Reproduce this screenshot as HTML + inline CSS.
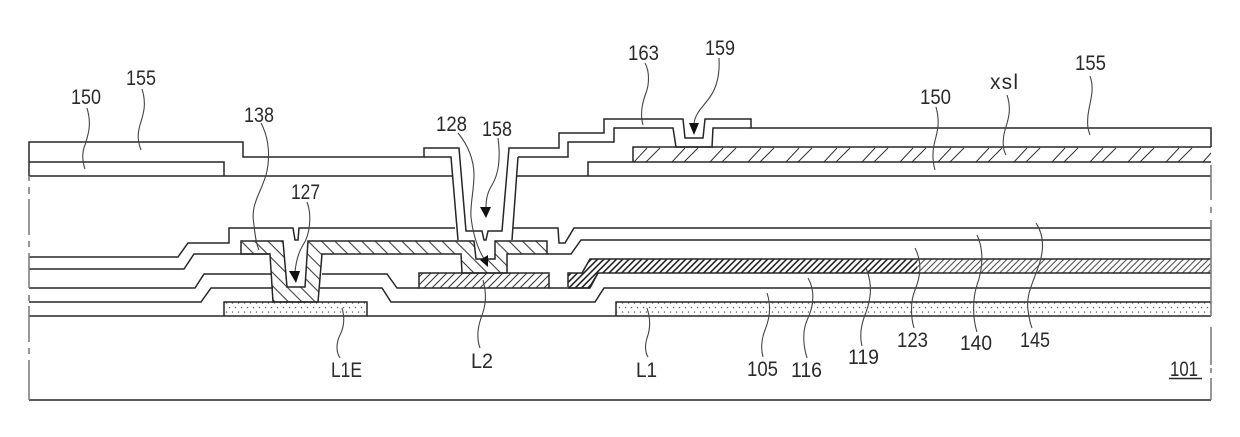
<!DOCTYPE html>
<html><head><meta charset="utf-8"><style>
html,body{margin:0;padding:0;background:#fff}
svg{display:block}
text{font-family:"Liberation Sans",sans-serif;font-size:21px;fill:#2a2a2a}
.l{fill:none;stroke:#262626;stroke-width:1.5}
.w{fill:none;stroke:#444;stroke-width:1.1}
</style></head><body>
<svg width="1240" height="437" viewBox="0 0 1240 437" xmlns="http://www.w3.org/2000/svg">
<defs>
<pattern id="h138" patternUnits="userSpaceOnUse" width="13.4" height="13.4"><path d="M-1,-1L14.4,14.4M-1,12.4L1,14.4M12.4,-1L14.4,1" stroke="#333" stroke-width="1"/></pattern>
<pattern id="hL2" patternUnits="userSpaceOnUse" width="8" height="8"><path d="M-1,9L9,-1M-1,1L1,-1M7,9L9,7" stroke="#333" stroke-width="1"/></pattern>
<pattern id="h3a" patternUnits="userSpaceOnUse" width="6.3" height="6.3"><path d="M-1,7.3L7.3,-1M-1,1L1,-1M5.3,7.3L7.3,5.3" stroke="#1a1a1a" stroke-width="1.5"/></pattern>
<pattern id="h3b" patternUnits="userSpaceOnUse" width="6.3" height="6.3"><path d="M-1,7.3L7.3,-1M-1,1L1,-1M5.3,7.3L7.3,5.3" stroke="#444" stroke-width="1"/></pattern>
<pattern id="dots" patternUnits="userSpaceOnUse" width="6" height="9" y="303"><circle cx="1.5" cy="4.5" r=".75" fill="#666"/><circle cx="4.5" cy="9" r=".75" fill="#666"/><circle cx="4.5" cy="0" r=".75" fill="#666"/></pattern>
</defs>

<!-- hatched regions -->
<g stroke="#333" stroke-width="1" fill="none">
<path d="M634,162L647,148M646,162L660,148M672,162L685,148M684,162L698,148M710,162L723,148M722,162L736,148M748,162L761,148M760,162L774,148M786,162L799,148M798,162L812,148M824,162L837,148M836,162L850,148M862,162L875,148M874,162L888,148M900,162L913,148M912,162L926,148M938,162L951,148M950,162L964,148M976,162L989,148M988,162L1002,148M1014,162L1027,148M1026,162L1040,148M1052,162L1065,148M1064,162L1078,148M1090,162L1103,148M1102,162L1116,148M1128,162L1141,148M1140,162L1154,148M1166,162L1179,148M1178,162L1192,148M1203,162L1211,153"/>
</g>
<path d="M241,241H283L287,287H305L308,241H474L476,259H495V241H547V254H507V273H462L461,254H322L318,302H273L270,254H241Z" fill="url(#h138)"/>
<path d="M419,273H549V288H419Z" fill="url(#hL2)"/>
<path d="M568,273H582L590,259H917V273H598L590,288H568Z" fill="url(#h3a)"/>
<path d="M917,259H1211V273H917Z" fill="url(#h3b)"/>
<path d="M224,302H367V316H224Z" fill="url(#dots)"/>
<path d="M616,302H1211V316H616Z" fill="url(#dots)"/>

<!-- top layers -->
<g class="l">
<path d="M29,176V142H243V157H424V148H459L466,231H482L484,240H486L488,231H502L509,148H559V133H604V119H683L685,138H703L705,119H751V128H1211V147"/>
<path d="M29,162H224V176"/>
<path d="M29,176H453"/>
<path d="M424,157H451L458,240"/>
<path d="M518,157H568V142H614V128H673L676,147H712L713,128H751"/>
<path d="M518,157L512,240"/>
<path d="M517,176H1211"/>
<path d="M588,176V162H1211"/>
<path d="M633,162V147H1211"/>

<!-- lower layers -->
<path d="M29,257H178L188,243H229V228H293L295,240H298L299,228H455"/>
<path d="M513,228H558L559,243H565L574,228H1211"/>
<path d="M29,269H184L194,254H270"/>
<path d="M547,254H571L581,240H1211"/>
<path d="M29,288H195L204,274H271"/>
<path d="M322,274H387L397,288H419M549,288H589L598,273H1211"/>
<path d="M29,302H201L211,288H273"/>
<path d="M320,288H382L391,302H595L604,288H1211"/>
<path d="M29,316H1211"/>
<path d="M29,400H1211"/>
<path d="M241,241H283L287,287H305L308,241H474L476,259H495V241H547V254H507V273H462L461,254H322L318,302H273L270,254H241Z"/>
<path d="M419,273H549V288H419Z"/>
<path d="M568,287V273H582L590,259H1211M598,273L590,288H568"/>
<path d="M224,316V302H367V316"/>
<path d="M616,316V302H1211"/>

<!-- break lines -->
<path d="M29,176V181M29,187V194M29,199V235M29,241V247M29,253V288M29,295V301M29,306V342M29,348V354M29,360V400" stroke="#777"/>
<path d="M1211,165V200M1211,207V213M1211,220V316M1211,327V365M1211,368V373M1211,378V400" stroke="#777"/>

<path d="M1169,378.5H1202"/>
</g>

<!-- leader lines -->
<g class="w">
<path d="M87,108C92,125 88,135 85,145C82,152 82,160 85,169"/>
<path d="M142,89C147,105 143,115 140,125C137,135 138,142 141,150"/>
<path d="M261,123C270,140 270,160 266,175C260,195 250,205 254,225C255,235 256,243 259,250"/>
<path d="M307,202C312,215 310,235 303,245C298,253 296,262 295,272"/>
<path d="M458,133C468,145 474,160 474,175C474,190 470,205 471,217C473,235 478,250 486,262"/>
<path d="M498,138C501,160 498,175 492,185C487,193 486,200 486,208"/>
<path d="M645,63C650,72 649,85 646,93C642,103 640,115 643,125"/>
<path d="M719,58C720,75 717,87 710,97C703,107 695,113 694,124"/>
<path d="M1007,95C1012,110 1008,120 1005,130C1002,140 1003,150 1006,155"/>
<path d="M1090,76C1095,90 1090,100 1088,115C1087,125 1088,130 1090,135"/>
<path d="M936,107C941,125 936,135 934,145C932,155 933,163 935,170"/>
<path d="M342,308C345,318 344,327 340,335C336,343 336,352 340,358"/>
<path d="M483,280C487,295 486,305 481,318C477,330 477,340 480,348"/>
<path d="M647,308C651,320 650,330 647,338C645,345 645,352 648,357"/>
<path d="M767,293C771,305 770,318 765,330C761,340 761,350 763,357"/>
<path d="M808,278C815,290 814,305 808,318C802,330 803,345 807,358"/>
<path d="M866,268C873,285 871,300 865,315C860,328 860,338 862,346"/>
<path d="M915,248C922,262 921,275 915,290C910,302 911,318 914,328"/>
<path d="M977,235C984,250 983,268 977,285C972,300 973,320 977,332"/>
<path d="M1036,223C1044,235 1044,250 1039,265C1032,285 1026,295 1028,310C1029,318 1030,323 1032,328"/>
</g>

<!-- arrowheads -->
<path d="M289,271H300L296,283Z" fill="#111"/>
<path d="M480,260L488,255V267Z" fill="#111"/>
<path d="M480,207H491L486,218Z" fill="#111"/>
<path d="M689,123H699L694,135Z" fill="#111"/>

<!-- labels -->
<text x="126" y="85" textLength="30" lengthAdjust="spacingAndGlyphs">155</text>
<text x="71" y="104" textLength="30" lengthAdjust="spacingAndGlyphs">150</text>
<text x="244" y="122" textLength="30" lengthAdjust="spacingAndGlyphs">138</text>
<text x="291" y="199" textLength="29" lengthAdjust="spacingAndGlyphs">127</text>
<text x="436" y="131" textLength="31" lengthAdjust="spacingAndGlyphs">128</text>
<text x="482" y="136" textLength="30" lengthAdjust="spacingAndGlyphs">158</text>
<text x="628" y="60" textLength="31" lengthAdjust="spacingAndGlyphs">163</text>
<text x="705" y="55" textLength="30" lengthAdjust="spacingAndGlyphs">159</text>
<text x="990" y="89" textLength="28" lengthAdjust="spacing">xsl</text>
<text x="1075" y="70" textLength="31" lengthAdjust="spacingAndGlyphs">155</text>
<text x="920" y="104" textLength="31" lengthAdjust="spacingAndGlyphs">150</text>
<text x="331" y="377" textLength="31" lengthAdjust="spacingAndGlyphs">L1E</text>
<text x="471" y="368" textLength="22" lengthAdjust="spacingAndGlyphs">L2</text>
<text x="636" y="377" textLength="21" lengthAdjust="spacingAndGlyphs">L1</text>
<text x="747" y="376" textLength="31" lengthAdjust="spacingAndGlyphs">105</text>
<text x="791" y="377" textLength="31" lengthAdjust="spacingAndGlyphs">116</text>
<text x="848" y="364" textLength="31" lengthAdjust="spacingAndGlyphs">119</text>
<text x="897" y="347" textLength="31" lengthAdjust="spacingAndGlyphs">123</text>
<text x="960" y="350" textLength="32" lengthAdjust="spacingAndGlyphs">140</text>
<text x="1020" y="347" textLength="30" lengthAdjust="spacingAndGlyphs">145</text>
<text x="1170" y="376" textLength="28" lengthAdjust="spacingAndGlyphs">101</text>
</svg>
</body></html>
